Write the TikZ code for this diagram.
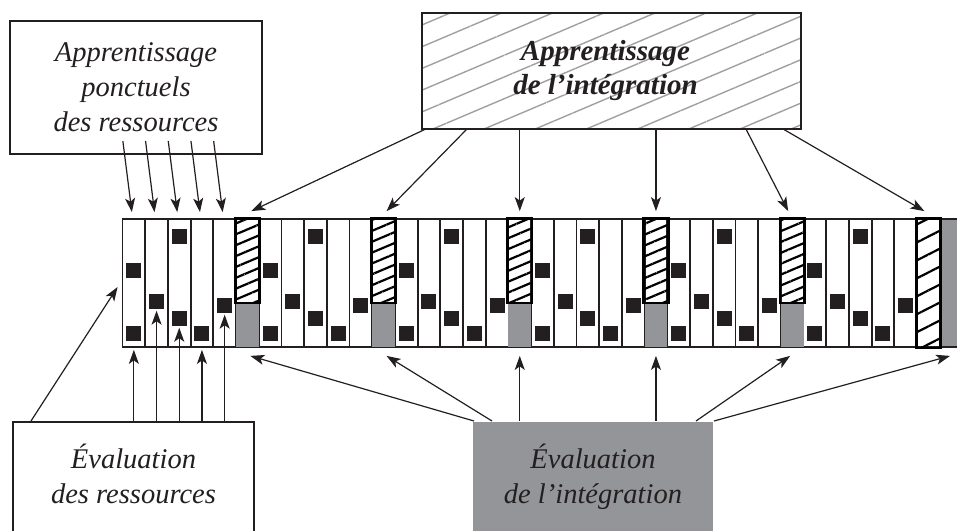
\documentclass[tikz,border=0pt]{standalone}
\usepackage{fontspec}
\setmainfont{Liberation Serif}
\usetikzlibrary{arrows.meta,patterns.meta,calc}
\definecolor{inkdark}{RGB}{35,31,32}
\definecolor{evalgray}{RGB}{147,149,152}
\definecolor{hatchgray}{RGB}{160,160,160}

\begin{document}
\begin{tikzpicture}[
    x=1pt, y=-1pt,
    textbox/.style={rectangle, draw=inkdark, line width=2pt, align=center, text=inkdark, inner sep=0pt, font=\fontsize{28.5}{35}\selectfont\itshape},
    col/.style={rectangle, draw=inkdark, line width=1.8pt, fill=white, minimum width=22.7pt, minimum height=128pt, inner sep=0pt},
    hatched/.style={draw=black, line width=2.8pt, pattern={Lines[angle=23,distance=10pt,line width=2.2pt]}, pattern color=black},
    dot/.style={rectangle, fill=inkdark, minimum size=15pt, inner sep=0pt},
    arrow/.style={-{Stealth[length=14pt,width=10pt,inset=3.5pt]}, line width=1.2pt, draw=inkdark}
]
    \useasboundingbox (0,0) rectangle (957,530);
    \clip (0,0) rectangle (957,530);

    % Boxes
    \node[textbox, fill=white, minimum width=252pt, minimum height=133pt] (ress) at (136,87.5) {Apprentissage\\ponctuels\\des ressources};
    \node[textbox, minimum width=379pt, minimum height=116pt, font=\fontsize{29}{34}\selectfont\bfseries\itshape,
        pattern={Lines[angle=23,distance=20pt,line width=1.4pt]}, pattern color=hatchgray] (integ) at (611.5,71) {Apprentissage\hspace*{12pt}\\de l’intégration\hspace*{12pt}};
    \node[textbox, fill=white, minimum width=241pt, minimum height=114pt] (evres) at (133.5,479) {Évaluation\\des ressources\rule[-11pt]{0pt}{11pt}};
    \node[textbox, draw=none, fill=evalgray, minimum width=240pt, minimum height=114pt] (evint) at (593,479) {Évaluation\\de l’intégration\rule[-11pt]{0pt}{11pt}};

    % Strip of lessons
    \foreach \i in {0,...,35}
        \node[col] (c\i) at ({133.85+22.7*\i},283) {};
    \node[col, fill=evalgray] (c36) at ({133.85+22.7*36},283) {};

    % Integration slots
    \foreach \i in {5,11,17,23,29} {
        \fill[evalgray] ($(c\i.south west)+(0.9,-44)$) rectangle ($(c\i.south east)+(-0.9,-0.9)$);
        \draw[hatched] (c\i.north west) rectangle ($(c\i.east)+(0,20)$);
    }
    \draw[hatched, pattern={Lines[angle=27,distance=16pt,line width=2.2pt]}] (c35.north west) rectangle (c35.south east);

    % Resource squares
    \foreach \b in {0,...,5}
        \foreach \j/\y in {0/270,0/333,1/301,2/236,2/318,3/333,4/305} {
            \pgfmathtruncatemacro{\i}{6*\b+\j}
            \node[dot] (s\i-\y) at ({133.85+22.7*\i},\y) {};
        }

    % Arrows from resources boxes
    \foreach \i in {0,...,4}
        \draw[arrow] ($(c\i.north |- ress.south)+(-11,-14)$) -- ($(c\i.north)+(-2,-6)$);
    \draw[arrow] (c0.south |- evres.north) -- ($(c0.south)+(0,2)$);
    \draw[arrow] (c1.south |- evres.north) -- ($(s1-301.south)+(0,2)$);
    \draw[arrow] (c2.south |- evres.north) -- ($(s2-318.south)+(0,2)$);
    \draw[arrow] (c3.south |- evres.north) -- ($(c3.south)+(0,2)$);
    \draw[arrow] (c4.south |- evres.north) -- ($(s4-305.south)+(0,2)$);
    \draw[arrow] ($(evres.north west)+(19,0)$) -- ($(c0.west)+(-4,4)$);

    % Arrows from integration boxes
    \draw[arrow] ($(integ.south west)+(3,0)$) -- ($(c5.north)+(4,-7)$);
    \draw[arrow] ($(integ.south west)+(45,0)$) -- ($(c11.north)+(3,-7)$);
    \draw[arrow] (c17.north |- integ.south) -- ($(c17.north)+(0,-7)$);
    \draw[arrow] (c23.north |- integ.south) -- ($(c23.north)+(0,-7)$);
    \draw[arrow] ($(integ.south west)+(325,0)$) -- ($(c29.north)+(-4,-7)$);
    \draw[arrow] ($(integ.south west)+(363,0)$) -- ($(c35.north)+(-4,-7)$);

    \draw[arrow] ($(evint.north west)+(2,0)$) -- ($(c5.south)+(3,8)$);
    \draw[arrow] ($(evint.north west)+(20,0)$) -- ($(c11.south)+(3,8)$);
    \draw[arrow] (c17.south |- evint.north) -- ($(c17.south)+(0,8)$);
    \draw[arrow] (c23.south |- evint.north) -- ($(c23.south)+(0,8)$);
    \draw[arrow] ($(evint.north east)+(-18,0)$) -- ($(c29.south)+(-2,8)$);
    \draw[arrow] (evint.north east) -- ($(c36.south)+(-1,8)$);
\end{tikzpicture}
\end{document}
